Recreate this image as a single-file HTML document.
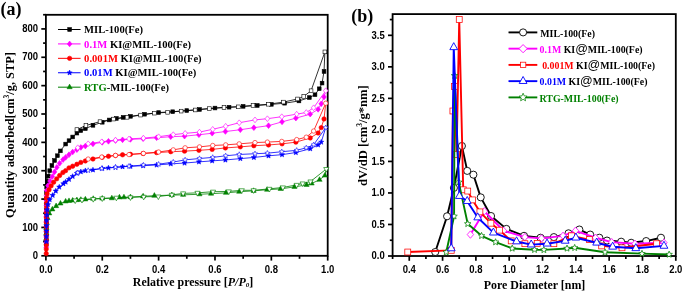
<!DOCTYPE html>
<html><head><meta charset="utf-8"><style>
html,body{margin:0;padding:0;background:#fff;}
svg{display:block;will-change:transform;}
.tk{font-family:"Liberation Sans",sans-serif;font-weight:bold;font-size:10.0px;fill:#000;}
.tt{font-family:"Liberation Serif",serif;font-weight:bold;font-size:11.95px;fill:#000;}
.tt2{font-family:"Liberation Serif",serif;font-weight:bold;font-size:12.6px;fill:#000;}
.tt3{font-family:"Liberation Serif",serif;font-weight:bold;font-size:12.4px;fill:#000;}
.pl{font-family:"Liberation Serif",serif;font-weight:bold;font-size:18px;fill:#000;}
.lga{font-family:"Liberation Serif",serif;font-weight:bold;font-size:10.6px;fill:#000;}
.lgb{font-family:"Liberation Serif",serif;font-weight:bold;font-size:9.85px;fill:#000;}
.at{font-family:"Liberation Sans",sans-serif;font-weight:normal;font-size:12.5px;}
</style></head><body>
<svg width="685" height="292" viewBox="0 0 685 292">
<rect width="685" height="292" fill="#fff"/>
<rect x="45.9" y="14.8" width="281.80" height="241.00" fill="none" stroke="#000" stroke-width="1.8"/>
<line x1="41.30" y1="255.80" x2="45.9" y2="255.80" stroke="#000" stroke-width="1.7"/>
<text transform="translate(38.0,259.00) scale(0.95,1)" text-anchor="end" class="tk">0</text>
<line x1="43.10" y1="241.62" x2="45.9" y2="241.62" stroke="#000" stroke-width="1.7"/>
<line x1="41.30" y1="227.44" x2="45.9" y2="227.44" stroke="#000" stroke-width="1.7"/>
<text transform="translate(38.0,230.64) scale(0.95,1)" text-anchor="end" class="tk">100</text>
<line x1="43.10" y1="213.26" x2="45.9" y2="213.26" stroke="#000" stroke-width="1.7"/>
<line x1="41.30" y1="199.08" x2="45.9" y2="199.08" stroke="#000" stroke-width="1.7"/>
<text transform="translate(38.0,202.28) scale(0.95,1)" text-anchor="end" class="tk">200</text>
<line x1="43.10" y1="184.90" x2="45.9" y2="184.90" stroke="#000" stroke-width="1.7"/>
<line x1="41.30" y1="170.72" x2="45.9" y2="170.72" stroke="#000" stroke-width="1.7"/>
<text transform="translate(38.0,173.92) scale(0.95,1)" text-anchor="end" class="tk">300</text>
<line x1="43.10" y1="156.54" x2="45.9" y2="156.54" stroke="#000" stroke-width="1.7"/>
<line x1="41.30" y1="142.36" x2="45.9" y2="142.36" stroke="#000" stroke-width="1.7"/>
<text transform="translate(38.0,145.56) scale(0.95,1)" text-anchor="end" class="tk">400</text>
<line x1="43.10" y1="128.18" x2="45.9" y2="128.18" stroke="#000" stroke-width="1.7"/>
<line x1="41.30" y1="114.00" x2="45.9" y2="114.00" stroke="#000" stroke-width="1.7"/>
<text transform="translate(38.0,117.20) scale(0.95,1)" text-anchor="end" class="tk">500</text>
<line x1="43.10" y1="99.82" x2="45.9" y2="99.82" stroke="#000" stroke-width="1.7"/>
<line x1="41.30" y1="85.64" x2="45.9" y2="85.64" stroke="#000" stroke-width="1.7"/>
<text transform="translate(38.0,88.84) scale(0.95,1)" text-anchor="end" class="tk">600</text>
<line x1="43.10" y1="71.46" x2="45.9" y2="71.46" stroke="#000" stroke-width="1.7"/>
<line x1="41.30" y1="57.28" x2="45.9" y2="57.28" stroke="#000" stroke-width="1.7"/>
<text transform="translate(38.0,60.48) scale(0.95,1)" text-anchor="end" class="tk">700</text>
<line x1="43.10" y1="43.10" x2="45.9" y2="43.10" stroke="#000" stroke-width="1.7"/>
<line x1="41.30" y1="28.92" x2="45.9" y2="28.92" stroke="#000" stroke-width="1.7"/>
<text transform="translate(38.0,32.12) scale(0.95,1)" text-anchor="end" class="tk">800</text>
<line x1="43.10" y1="14.74" x2="45.9" y2="14.74" stroke="#000" stroke-width="1.7"/>
<line x1="45.90" y1="255.8" x2="45.90" y2="260.60" stroke="#000" stroke-width="1.7"/>
<text transform="translate(45.90,272.5) scale(0.95,1)" text-anchor="middle" class="tk">0.0</text>
<line x1="74.08" y1="255.8" x2="74.08" y2="258.80" stroke="#000" stroke-width="1.7"/>
<line x1="102.26" y1="255.8" x2="102.26" y2="260.60" stroke="#000" stroke-width="1.7"/>
<text transform="translate(102.26,272.5) scale(0.95,1)" text-anchor="middle" class="tk">0.2</text>
<line x1="130.44" y1="255.8" x2="130.44" y2="258.80" stroke="#000" stroke-width="1.7"/>
<line x1="158.62" y1="255.8" x2="158.62" y2="260.60" stroke="#000" stroke-width="1.7"/>
<text transform="translate(158.62,272.5) scale(0.95,1)" text-anchor="middle" class="tk">0.4</text>
<line x1="186.80" y1="255.8" x2="186.80" y2="258.80" stroke="#000" stroke-width="1.7"/>
<line x1="214.98" y1="255.8" x2="214.98" y2="260.60" stroke="#000" stroke-width="1.7"/>
<text transform="translate(214.98,272.5) scale(0.95,1)" text-anchor="middle" class="tk">0.6</text>
<line x1="243.16" y1="255.8" x2="243.16" y2="258.80" stroke="#000" stroke-width="1.7"/>
<line x1="271.34" y1="255.8" x2="271.34" y2="260.60" stroke="#000" stroke-width="1.7"/>
<text transform="translate(271.34,272.5) scale(0.95,1)" text-anchor="middle" class="tk">0.8</text>
<line x1="299.52" y1="255.8" x2="299.52" y2="258.80" stroke="#000" stroke-width="1.7"/>
<line x1="327.70" y1="255.8" x2="327.70" y2="260.60" stroke="#000" stroke-width="1.7"/>
<text transform="translate(327.70,272.5) scale(0.95,1)" text-anchor="middle" class="tk">1.0</text>
<text x="193" y="286.4" text-anchor="middle" class="tt">Relative pressure [<tspan font-style="italic">P/P</tspan><tspan font-size="7px" dy="0.3" font-style="italic">0</tspan><tspan dy="-0.3">]</tspan></text>
<text transform="translate(13.6,135.0) rotate(-90)" text-anchor="middle" class="tt3">Quantity adsorbed[cm<tspan font-size="7.6px" dy="-4.6">3</tspan><tspan dy="4.6">/g, STP]</tspan></text>
<text x="0.6" y="15.3" class="pl">(a)</text>
<polyline points="46.24,244.46 46.25,238.78 46.27,233.11 46.28,227.44 46.29,221.77 46.33,216.10 46.36,210.42 46.41,204.61 46.47,198.65 46.53,192.70 46.63,187.14 47.14,181.58 48.27,176.06 49.71,170.64 51.88,165.49 54.52,160.51 57.40,155.69 60.38,150.88 65.63,144.06 69.01,140.66 72.67,136.97 76.90,133.14 80.84,130.63 85.35,128.63 92.96,125.34 102.26,122.28 109.31,119.96 116.35,118.44 123.11,117.40 130.44,116.35 144.53,114.25 158.62,112.56 172.71,111.71 186.80,110.55 199.48,109.46 214.98,108.04 229.07,107.21 243.16,106.36 257.25,105.47 271.34,104.36 284.58,103.22 298.96,100.95 309.38,97.55 315.02,94.72 319.25,88.76 322.06,83.09 324.04,71.46 324.88,51.89" fill="none" stroke="#000000" stroke-width="0.8" stroke-linejoin="round"/>
<polyline points="324.88,51.89 311.07,90.74 303.75,96.42 297.55,98.97 283.46,102.09 268.52,104.24 253.02,105.43 238.37,106.85 224.00,107.45 209.34,108.61 195.25,109.98 181.16,111.12 167.64,112.30 154.39,113.15 140.58,115.09 127.06,117.31 113.53,119.07 100.01,121.66 85.92,125.47 76.90,129.60" fill="none" stroke="#000000" stroke-width="0.8" stroke-linejoin="round"/>
<rect x="44.39" y="242.61" width="3.70" height="3.70" fill="#000000" stroke="#000000" stroke-width="0.6"/>
<rect x="44.40" y="236.93" width="3.70" height="3.70" fill="#000000" stroke="#000000" stroke-width="0.6"/>
<rect x="44.42" y="231.26" width="3.70" height="3.70" fill="#000000" stroke="#000000" stroke-width="0.6"/>
<rect x="44.43" y="225.59" width="3.70" height="3.70" fill="#000000" stroke="#000000" stroke-width="0.6"/>
<rect x="44.44" y="219.92" width="3.70" height="3.70" fill="#000000" stroke="#000000" stroke-width="0.6"/>
<rect x="44.48" y="214.25" width="3.70" height="3.70" fill="#000000" stroke="#000000" stroke-width="0.6"/>
<rect x="44.51" y="208.57" width="3.70" height="3.70" fill="#000000" stroke="#000000" stroke-width="0.6"/>
<rect x="44.56" y="202.76" width="3.70" height="3.70" fill="#000000" stroke="#000000" stroke-width="0.6"/>
<rect x="44.62" y="196.80" width="3.70" height="3.70" fill="#000000" stroke="#000000" stroke-width="0.6"/>
<rect x="44.68" y="190.85" width="3.70" height="3.70" fill="#000000" stroke="#000000" stroke-width="0.6"/>
<rect x="44.78" y="185.29" width="3.70" height="3.70" fill="#000000" stroke="#000000" stroke-width="0.6"/>
<rect x="45.29" y="179.73" width="3.70" height="3.70" fill="#000000" stroke="#000000" stroke-width="0.6"/>
<rect x="46.42" y="174.21" width="3.70" height="3.70" fill="#000000" stroke="#000000" stroke-width="0.6"/>
<rect x="47.86" y="168.79" width="3.70" height="3.70" fill="#000000" stroke="#000000" stroke-width="0.6"/>
<rect x="50.03" y="163.64" width="3.70" height="3.70" fill="#000000" stroke="#000000" stroke-width="0.6"/>
<rect x="52.67" y="158.66" width="3.70" height="3.70" fill="#000000" stroke="#000000" stroke-width="0.6"/>
<rect x="55.55" y="153.84" width="3.70" height="3.70" fill="#000000" stroke="#000000" stroke-width="0.6"/>
<rect x="58.53" y="149.03" width="3.70" height="3.70" fill="#000000" stroke="#000000" stroke-width="0.6"/>
<rect x="63.78" y="142.21" width="3.70" height="3.70" fill="#000000" stroke="#000000" stroke-width="0.6"/>
<rect x="67.16" y="138.81" width="3.70" height="3.70" fill="#000000" stroke="#000000" stroke-width="0.6"/>
<rect x="70.82" y="135.12" width="3.70" height="3.70" fill="#000000" stroke="#000000" stroke-width="0.6"/>
<rect x="75.05" y="131.29" width="3.70" height="3.70" fill="#000000" stroke="#000000" stroke-width="0.6"/>
<rect x="78.99" y="128.78" width="3.70" height="3.70" fill="#000000" stroke="#000000" stroke-width="0.6"/>
<rect x="83.50" y="126.78" width="3.70" height="3.70" fill="#000000" stroke="#000000" stroke-width="0.6"/>
<rect x="91.11" y="123.49" width="3.70" height="3.70" fill="#000000" stroke="#000000" stroke-width="0.6"/>
<rect x="100.41" y="120.43" width="3.70" height="3.70" fill="#000000" stroke="#000000" stroke-width="0.6"/>
<rect x="107.46" y="118.11" width="3.70" height="3.70" fill="#000000" stroke="#000000" stroke-width="0.6"/>
<rect x="114.50" y="116.59" width="3.70" height="3.70" fill="#000000" stroke="#000000" stroke-width="0.6"/>
<rect x="121.26" y="115.55" width="3.70" height="3.70" fill="#000000" stroke="#000000" stroke-width="0.6"/>
<rect x="128.59" y="114.50" width="3.70" height="3.70" fill="#000000" stroke="#000000" stroke-width="0.6"/>
<rect x="142.68" y="112.40" width="3.70" height="3.70" fill="#000000" stroke="#000000" stroke-width="0.6"/>
<rect x="156.77" y="110.71" width="3.70" height="3.70" fill="#000000" stroke="#000000" stroke-width="0.6"/>
<rect x="170.86" y="109.86" width="3.70" height="3.70" fill="#000000" stroke="#000000" stroke-width="0.6"/>
<rect x="184.95" y="108.70" width="3.70" height="3.70" fill="#000000" stroke="#000000" stroke-width="0.6"/>
<rect x="197.63" y="107.61" width="3.70" height="3.70" fill="#000000" stroke="#000000" stroke-width="0.6"/>
<rect x="213.13" y="106.19" width="3.70" height="3.70" fill="#000000" stroke="#000000" stroke-width="0.6"/>
<rect x="227.22" y="105.36" width="3.70" height="3.70" fill="#000000" stroke="#000000" stroke-width="0.6"/>
<rect x="241.31" y="104.51" width="3.70" height="3.70" fill="#000000" stroke="#000000" stroke-width="0.6"/>
<rect x="255.40" y="103.62" width="3.70" height="3.70" fill="#000000" stroke="#000000" stroke-width="0.6"/>
<rect x="269.49" y="102.51" width="3.70" height="3.70" fill="#000000" stroke="#000000" stroke-width="0.6"/>
<rect x="282.73" y="101.37" width="3.70" height="3.70" fill="#000000" stroke="#000000" stroke-width="0.6"/>
<rect x="297.11" y="99.10" width="3.70" height="3.70" fill="#000000" stroke="#000000" stroke-width="0.6"/>
<rect x="307.53" y="95.70" width="3.70" height="3.70" fill="#000000" stroke="#000000" stroke-width="0.6"/>
<rect x="313.17" y="92.87" width="3.70" height="3.70" fill="#000000" stroke="#000000" stroke-width="0.6"/>
<rect x="317.40" y="86.91" width="3.70" height="3.70" fill="#000000" stroke="#000000" stroke-width="0.6"/>
<rect x="320.21" y="81.24" width="3.70" height="3.70" fill="#000000" stroke="#000000" stroke-width="0.6"/>
<rect x="322.19" y="69.61" width="3.70" height="3.70" fill="#000000" stroke="#000000" stroke-width="0.6"/>
<rect x="323.03" y="50.04" width="3.70" height="3.70" fill="#fff" stroke="#000000" stroke-width="0.6"/>
<rect x="309.22" y="88.89" width="3.70" height="3.70" fill="#fff" stroke="#000000" stroke-width="0.6"/>
<rect x="301.90" y="94.57" width="3.70" height="3.70" fill="#fff" stroke="#000000" stroke-width="0.6"/>
<rect x="295.70" y="97.12" width="3.70" height="3.70" fill="#fff" stroke="#000000" stroke-width="0.6"/>
<rect x="281.61" y="100.24" width="3.70" height="3.70" fill="#fff" stroke="#000000" stroke-width="0.6"/>
<rect x="266.67" y="102.39" width="3.70" height="3.70" fill="#fff" stroke="#000000" stroke-width="0.6"/>
<rect x="251.17" y="103.58" width="3.70" height="3.70" fill="#fff" stroke="#000000" stroke-width="0.6"/>
<rect x="236.52" y="105.00" width="3.70" height="3.70" fill="#fff" stroke="#000000" stroke-width="0.6"/>
<rect x="222.15" y="105.60" width="3.70" height="3.70" fill="#fff" stroke="#000000" stroke-width="0.6"/>
<rect x="207.49" y="106.76" width="3.70" height="3.70" fill="#fff" stroke="#000000" stroke-width="0.6"/>
<rect x="193.40" y="108.13" width="3.70" height="3.70" fill="#fff" stroke="#000000" stroke-width="0.6"/>
<rect x="179.31" y="109.27" width="3.70" height="3.70" fill="#fff" stroke="#000000" stroke-width="0.6"/>
<rect x="165.79" y="110.45" width="3.70" height="3.70" fill="#fff" stroke="#000000" stroke-width="0.6"/>
<rect x="152.54" y="111.30" width="3.70" height="3.70" fill="#fff" stroke="#000000" stroke-width="0.6"/>
<rect x="138.73" y="113.24" width="3.70" height="3.70" fill="#fff" stroke="#000000" stroke-width="0.6"/>
<rect x="125.21" y="115.46" width="3.70" height="3.70" fill="#fff" stroke="#000000" stroke-width="0.6"/>
<rect x="111.68" y="117.22" width="3.70" height="3.70" fill="#fff" stroke="#000000" stroke-width="0.6"/>
<rect x="98.16" y="119.81" width="3.70" height="3.70" fill="#fff" stroke="#000000" stroke-width="0.6"/>
<rect x="84.07" y="123.62" width="3.70" height="3.70" fill="#fff" stroke="#000000" stroke-width="0.6"/>
<rect x="75.05" y="127.75" width="3.70" height="3.70" fill="#fff" stroke="#000000" stroke-width="0.6"/>
<polyline points="46.24,247.29 46.25,242.19 46.26,237.08 46.28,231.98 46.29,226.87 46.31,221.77 46.34,216.45 46.37,211.13 46.44,205.74 46.50,200.68 46.57,195.61 46.70,190.51 47.98,185.64 49.98,180.99 52.33,176.50 54.49,171.93 56.78,167.42 59.61,163.33 63.09,159.59 65.63,157.42 69.01,154.72 72.67,152.00 76.90,149.66 80.84,147.46 85.35,146.07 92.96,143.88 102.26,142.36 108.46,141.32 115.50,140.55 122.55,139.81 130.44,139.40 143.12,138.75 156.65,137.77 170.74,136.71 184.55,136.15 198.92,134.76 212.16,133.23 225.41,131.52 240.34,129.73 253.87,127.70 268.52,125.67 282.05,121.86 295.86,118.14 310.23,114.16 318.12,109.33 321.22,103.82 324.04,96.98 325.73,90.74" fill="none" stroke="#ff00ff" stroke-width="0.8" stroke-linejoin="round"/>
<polyline points="325.73,90.74 313.61,107.77 306.28,112.50 296.70,114.14 281.77,116.69 267.39,118.70 255.00,119.90 239.21,122.73 225.69,126.25 212.73,129.31 199.48,132.07 185.11,133.35 173.27,134.64 158.62,136.71 143.40,138.11 129.03,138.89 115.50,140.07 101.70,141.76 88.17,143.74 77.74,147.70" fill="none" stroke="#ff00ff" stroke-width="0.8" stroke-linejoin="round"/>
<path d="M46.24 244.44L48.59 247.29L46.24 250.14L43.89 247.29Z" fill="#ff00ff" stroke="#ff00ff" stroke-width="0.6"/>
<path d="M46.25 239.34L48.60 242.19L46.25 245.04L43.90 242.19Z" fill="#ff00ff" stroke="#ff00ff" stroke-width="0.6"/>
<path d="M46.26 234.23L48.61 237.08L46.26 239.93L43.91 237.08Z" fill="#ff00ff" stroke="#ff00ff" stroke-width="0.6"/>
<path d="M46.28 229.13L48.63 231.98L46.28 234.83L43.93 231.98Z" fill="#ff00ff" stroke="#ff00ff" stroke-width="0.6"/>
<path d="M46.29 224.02L48.64 226.87L46.29 229.72L43.94 226.87Z" fill="#ff00ff" stroke="#ff00ff" stroke-width="0.6"/>
<path d="M46.31 218.92L48.66 221.77L46.31 224.62L43.96 221.77Z" fill="#ff00ff" stroke="#ff00ff" stroke-width="0.6"/>
<path d="M46.34 213.60L48.69 216.45L46.34 219.30L43.99 216.45Z" fill="#ff00ff" stroke="#ff00ff" stroke-width="0.6"/>
<path d="M46.37 208.28L48.72 211.13L46.37 213.98L44.02 211.13Z" fill="#ff00ff" stroke="#ff00ff" stroke-width="0.6"/>
<path d="M46.44 202.89L48.79 205.74L46.44 208.59L44.09 205.74Z" fill="#ff00ff" stroke="#ff00ff" stroke-width="0.6"/>
<path d="M46.50 197.83L48.85 200.68L46.50 203.53L44.15 200.68Z" fill="#ff00ff" stroke="#ff00ff" stroke-width="0.6"/>
<path d="M46.57 192.76L48.92 195.61L46.57 198.46L44.22 195.61Z" fill="#ff00ff" stroke="#ff00ff" stroke-width="0.6"/>
<path d="M46.70 187.66L49.05 190.51L46.70 193.36L44.35 190.51Z" fill="#ff00ff" stroke="#ff00ff" stroke-width="0.6"/>
<path d="M47.98 182.79L50.33 185.64L47.98 188.49L45.63 185.64Z" fill="#ff00ff" stroke="#ff00ff" stroke-width="0.6"/>
<path d="M49.98 178.14L52.33 180.99L49.98 183.84L47.63 180.99Z" fill="#ff00ff" stroke="#ff00ff" stroke-width="0.6"/>
<path d="M52.33 173.65L54.68 176.50L52.33 179.35L49.98 176.50Z" fill="#ff00ff" stroke="#ff00ff" stroke-width="0.6"/>
<path d="M54.49 169.08L56.84 171.93L54.49 174.78L52.14 171.93Z" fill="#ff00ff" stroke="#ff00ff" stroke-width="0.6"/>
<path d="M56.78 164.57L59.13 167.42L56.78 170.27L54.43 167.42Z" fill="#ff00ff" stroke="#ff00ff" stroke-width="0.6"/>
<path d="M59.61 160.48L61.96 163.33L59.61 166.18L57.26 163.33Z" fill="#ff00ff" stroke="#ff00ff" stroke-width="0.6"/>
<path d="M63.09 156.74L65.44 159.59L63.09 162.44L60.74 159.59Z" fill="#ff00ff" stroke="#ff00ff" stroke-width="0.6"/>
<path d="M65.63 154.57L67.98 157.42L65.63 160.27L63.28 157.42Z" fill="#ff00ff" stroke="#ff00ff" stroke-width="0.6"/>
<path d="M69.01 151.87L71.36 154.72L69.01 157.57L66.66 154.72Z" fill="#ff00ff" stroke="#ff00ff" stroke-width="0.6"/>
<path d="M72.67 149.15L75.02 152.00L72.67 154.85L70.32 152.00Z" fill="#ff00ff" stroke="#ff00ff" stroke-width="0.6"/>
<path d="M76.90 146.81L79.25 149.66L76.90 152.51L74.55 149.66Z" fill="#ff00ff" stroke="#ff00ff" stroke-width="0.6"/>
<path d="M80.84 144.61L83.19 147.46L80.84 150.31L78.49 147.46Z" fill="#ff00ff" stroke="#ff00ff" stroke-width="0.6"/>
<path d="M85.35 143.22L87.70 146.07L85.35 148.92L83.00 146.07Z" fill="#ff00ff" stroke="#ff00ff" stroke-width="0.6"/>
<path d="M92.96 141.03L95.31 143.88L92.96 146.73L90.61 143.88Z" fill="#ff00ff" stroke="#ff00ff" stroke-width="0.6"/>
<path d="M102.26 139.51L104.61 142.36L102.26 145.21L99.91 142.36Z" fill="#ff00ff" stroke="#ff00ff" stroke-width="0.6"/>
<path d="M108.46 138.47L110.81 141.32L108.46 144.17L106.11 141.32Z" fill="#ff00ff" stroke="#ff00ff" stroke-width="0.6"/>
<path d="M115.50 137.70L117.85 140.55L115.50 143.40L113.15 140.55Z" fill="#ff00ff" stroke="#ff00ff" stroke-width="0.6"/>
<path d="M122.55 136.96L124.90 139.81L122.55 142.66L120.20 139.81Z" fill="#ff00ff" stroke="#ff00ff" stroke-width="0.6"/>
<path d="M130.44 136.55L132.79 139.40L130.44 142.25L128.09 139.40Z" fill="#ff00ff" stroke="#ff00ff" stroke-width="0.6"/>
<path d="M143.12 135.90L145.47 138.75L143.12 141.60L140.77 138.75Z" fill="#ff00ff" stroke="#ff00ff" stroke-width="0.6"/>
<path d="M156.65 134.92L159.00 137.77L156.65 140.62L154.30 137.77Z" fill="#ff00ff" stroke="#ff00ff" stroke-width="0.6"/>
<path d="M170.74 133.86L173.09 136.71L170.74 139.56L168.39 136.71Z" fill="#ff00ff" stroke="#ff00ff" stroke-width="0.6"/>
<path d="M184.55 133.30L186.90 136.15L184.55 139.00L182.20 136.15Z" fill="#ff00ff" stroke="#ff00ff" stroke-width="0.6"/>
<path d="M198.92 131.91L201.27 134.76L198.92 137.61L196.57 134.76Z" fill="#ff00ff" stroke="#ff00ff" stroke-width="0.6"/>
<path d="M212.16 130.38L214.51 133.23L212.16 136.08L209.81 133.23Z" fill="#ff00ff" stroke="#ff00ff" stroke-width="0.6"/>
<path d="M225.41 128.67L227.76 131.52L225.41 134.37L223.06 131.52Z" fill="#ff00ff" stroke="#ff00ff" stroke-width="0.6"/>
<path d="M240.34 126.88L242.69 129.73L240.34 132.58L237.99 129.73Z" fill="#ff00ff" stroke="#ff00ff" stroke-width="0.6"/>
<path d="M253.87 124.85L256.22 127.70L253.87 130.55L251.52 127.70Z" fill="#ff00ff" stroke="#ff00ff" stroke-width="0.6"/>
<path d="M268.52 122.82L270.87 125.67L268.52 128.52L266.17 125.67Z" fill="#ff00ff" stroke="#ff00ff" stroke-width="0.6"/>
<path d="M282.05 119.01L284.40 121.86L282.05 124.71L279.70 121.86Z" fill="#ff00ff" stroke="#ff00ff" stroke-width="0.6"/>
<path d="M295.86 115.29L298.21 118.14L295.86 120.99L293.51 118.14Z" fill="#ff00ff" stroke="#ff00ff" stroke-width="0.6"/>
<path d="M310.23 111.31L312.58 114.16L310.23 117.01L307.88 114.16Z" fill="#ff00ff" stroke="#ff00ff" stroke-width="0.6"/>
<path d="M318.12 106.48L320.47 109.33L318.12 112.18L315.77 109.33Z" fill="#ff00ff" stroke="#ff00ff" stroke-width="0.6"/>
<path d="M321.22 100.97L323.57 103.82L321.22 106.67L318.87 103.82Z" fill="#ff00ff" stroke="#ff00ff" stroke-width="0.6"/>
<path d="M324.04 94.13L326.39 96.98L324.04 99.83L321.69 96.98Z" fill="#ff00ff" stroke="#ff00ff" stroke-width="0.6"/>
<path d="M325.73 87.89L328.08 90.74L325.73 93.59L323.38 90.74Z" fill="#fff" stroke="#ff00ff" stroke-width="0.6"/>
<path d="M313.61 104.92L315.96 107.77L313.61 110.62L311.26 107.77Z" fill="#fff" stroke="#ff00ff" stroke-width="0.6"/>
<path d="M306.28 109.65L308.63 112.50L306.28 115.35L303.93 112.50Z" fill="#fff" stroke="#ff00ff" stroke-width="0.6"/>
<path d="M296.70 111.29L299.05 114.14L296.70 116.99L294.35 114.14Z" fill="#fff" stroke="#ff00ff" stroke-width="0.6"/>
<path d="M281.77 113.84L284.12 116.69L281.77 119.54L279.42 116.69Z" fill="#fff" stroke="#ff00ff" stroke-width="0.6"/>
<path d="M267.39 115.85L269.74 118.70L267.39 121.55L265.04 118.70Z" fill="#fff" stroke="#ff00ff" stroke-width="0.6"/>
<path d="M255.00 117.05L257.35 119.90L255.00 122.75L252.65 119.90Z" fill="#fff" stroke="#ff00ff" stroke-width="0.6"/>
<path d="M239.21 119.88L241.56 122.73L239.21 125.58L236.86 122.73Z" fill="#fff" stroke="#ff00ff" stroke-width="0.6"/>
<path d="M225.69 123.40L228.04 126.25L225.69 129.10L223.34 126.25Z" fill="#fff" stroke="#ff00ff" stroke-width="0.6"/>
<path d="M212.73 126.46L215.08 129.31L212.73 132.16L210.38 129.31Z" fill="#fff" stroke="#ff00ff" stroke-width="0.6"/>
<path d="M199.48 129.22L201.83 132.07L199.48 134.92L197.13 132.07Z" fill="#fff" stroke="#ff00ff" stroke-width="0.6"/>
<path d="M185.11 130.50L187.46 133.35L185.11 136.20L182.76 133.35Z" fill="#fff" stroke="#ff00ff" stroke-width="0.6"/>
<path d="M173.27 131.79L175.62 134.64L173.27 137.49L170.92 134.64Z" fill="#fff" stroke="#ff00ff" stroke-width="0.6"/>
<path d="M158.62 133.86L160.97 136.71L158.62 139.56L156.27 136.71Z" fill="#fff" stroke="#ff00ff" stroke-width="0.6"/>
<path d="M143.40 135.26L145.75 138.11L143.40 140.96L141.05 138.11Z" fill="#fff" stroke="#ff00ff" stroke-width="0.6"/>
<path d="M129.03 136.04L131.38 138.89L129.03 141.74L126.68 138.89Z" fill="#fff" stroke="#ff00ff" stroke-width="0.6"/>
<path d="M115.50 137.22L117.85 140.07L115.50 142.92L113.15 140.07Z" fill="#fff" stroke="#ff00ff" stroke-width="0.6"/>
<path d="M101.70 138.91L104.05 141.76L101.70 144.61L99.35 141.76Z" fill="#fff" stroke="#ff00ff" stroke-width="0.6"/>
<path d="M88.17 140.89L90.52 143.74L88.17 146.59L85.82 143.74Z" fill="#fff" stroke="#ff00ff" stroke-width="0.6"/>
<path d="M77.74 144.85L80.09 147.70L77.74 150.55L75.39 147.70Z" fill="#fff" stroke="#ff00ff" stroke-width="0.6"/>
<polyline points="46.24,238.78 46.32,233.47 46.41,228.15 46.72,223.01 47.51,218.05 49.24,213.37 52.33,209.39 56.12,206.10 60.47,203.51 65.63,201.46 69.01,200.97 72.67,200.53 76.90,200.10 80.84,199.75 85.35,199.39 93.24,198.80 102.26,198.52 111.84,198.23 119.45,197.38 123.96,197.26 130.44,197.09 143.12,196.34 154.39,195.68 171.86,195.11 183.14,194.83 199.48,194.29 211.03,193.69 225.97,192.84 239.21,191.71 253.59,190.86 267.11,189.72 280.64,188.87 294.45,186.89 306.56,184.90 311.64,183.48 319.53,179.80 324.88,175.54 326.29,169.02" fill="none" stroke="#008000" stroke-width="0.8" stroke-linejoin="round"/>
<polyline points="326.29,169.02 310.51,181.50 302.62,183.48 296.70,184.90 282.89,187.45 269.37,188.87 253.59,190.29 241.75,190.29 228.79,191.42 213.01,191.71 197.51,192.84 183.14,193.41 171.86,194.83 158.34,196.53 143.68,196.81 130.44,197.38 116.35,197.74 102.26,198.41 93.24,199.08 81.97,199.93 75.21,200.50" fill="none" stroke="#008000" stroke-width="0.8" stroke-linejoin="round"/>
<path d="M46.24 235.72L48.84 240.32L43.64 240.32Z" fill="#008000" stroke="#008000" stroke-width="0.5" stroke-linejoin="miter"/>
<path d="M46.32 230.40L48.92 235.00L43.72 235.00Z" fill="#008000" stroke="#008000" stroke-width="0.5" stroke-linejoin="miter"/>
<path d="M46.41 225.08L49.01 229.68L43.81 229.68Z" fill="#008000" stroke="#008000" stroke-width="0.5" stroke-linejoin="miter"/>
<path d="M46.72 219.94L49.32 224.54L44.12 224.54Z" fill="#008000" stroke="#008000" stroke-width="0.5" stroke-linejoin="miter"/>
<path d="M47.51 214.98L50.11 219.58L44.91 219.58Z" fill="#008000" stroke="#008000" stroke-width="0.5" stroke-linejoin="miter"/>
<path d="M49.24 210.30L51.84 214.90L46.64 214.90Z" fill="#008000" stroke="#008000" stroke-width="0.5" stroke-linejoin="miter"/>
<path d="M52.33 206.32L54.93 210.92L49.73 210.92Z" fill="#008000" stroke="#008000" stroke-width="0.5" stroke-linejoin="miter"/>
<path d="M56.12 203.03L58.72 207.63L53.52 207.63Z" fill="#008000" stroke="#008000" stroke-width="0.5" stroke-linejoin="miter"/>
<path d="M60.47 200.44L63.07 205.04L57.87 205.04Z" fill="#008000" stroke="#008000" stroke-width="0.5" stroke-linejoin="miter"/>
<path d="M65.63 198.39L68.23 202.99L63.03 202.99Z" fill="#008000" stroke="#008000" stroke-width="0.5" stroke-linejoin="miter"/>
<path d="M69.01 197.91L71.61 202.51L66.41 202.51Z" fill="#008000" stroke="#008000" stroke-width="0.5" stroke-linejoin="miter"/>
<path d="M72.67 197.46L75.27 202.06L70.07 202.06Z" fill="#008000" stroke="#008000" stroke-width="0.5" stroke-linejoin="miter"/>
<path d="M76.90 197.04L79.50 201.64L74.30 201.64Z" fill="#008000" stroke="#008000" stroke-width="0.5" stroke-linejoin="miter"/>
<path d="M80.84 196.68L83.44 201.28L78.24 201.28Z" fill="#008000" stroke="#008000" stroke-width="0.5" stroke-linejoin="miter"/>
<path d="M85.35 196.33L87.95 200.93L82.75 200.93Z" fill="#008000" stroke="#008000" stroke-width="0.5" stroke-linejoin="miter"/>
<path d="M93.24 195.73L95.84 200.33L90.64 200.33Z" fill="#008000" stroke="#008000" stroke-width="0.5" stroke-linejoin="miter"/>
<path d="M102.26 195.45L104.86 200.05L99.66 200.05Z" fill="#008000" stroke="#008000" stroke-width="0.5" stroke-linejoin="miter"/>
<path d="M111.84 195.16L114.44 199.76L109.24 199.76Z" fill="#008000" stroke="#008000" stroke-width="0.5" stroke-linejoin="miter"/>
<path d="M119.45 194.31L122.05 198.91L116.85 198.91Z" fill="#008000" stroke="#008000" stroke-width="0.5" stroke-linejoin="miter"/>
<path d="M123.96 194.20L126.56 198.80L121.36 198.80Z" fill="#008000" stroke="#008000" stroke-width="0.5" stroke-linejoin="miter"/>
<path d="M130.44 194.03L133.04 198.63L127.84 198.63Z" fill="#008000" stroke="#008000" stroke-width="0.5" stroke-linejoin="miter"/>
<path d="M143.12 193.28L145.72 197.88L140.52 197.88Z" fill="#008000" stroke="#008000" stroke-width="0.5" stroke-linejoin="miter"/>
<path d="M154.39 192.61L156.99 197.21L151.79 197.21Z" fill="#008000" stroke="#008000" stroke-width="0.5" stroke-linejoin="miter"/>
<path d="M171.86 192.04L174.46 196.64L169.26 196.64Z" fill="#008000" stroke="#008000" stroke-width="0.5" stroke-linejoin="miter"/>
<path d="M183.14 191.76L185.74 196.36L180.54 196.36Z" fill="#008000" stroke="#008000" stroke-width="0.5" stroke-linejoin="miter"/>
<path d="M199.48 191.22L202.08 195.82L196.88 195.82Z" fill="#008000" stroke="#008000" stroke-width="0.5" stroke-linejoin="miter"/>
<path d="M211.03 190.62L213.63 195.22L208.43 195.22Z" fill="#008000" stroke="#008000" stroke-width="0.5" stroke-linejoin="miter"/>
<path d="M225.97 189.77L228.57 194.37L223.37 194.37Z" fill="#008000" stroke="#008000" stroke-width="0.5" stroke-linejoin="miter"/>
<path d="M239.21 188.64L241.81 193.24L236.61 193.24Z" fill="#008000" stroke="#008000" stroke-width="0.5" stroke-linejoin="miter"/>
<path d="M253.59 187.79L256.19 192.39L250.99 192.39Z" fill="#008000" stroke="#008000" stroke-width="0.5" stroke-linejoin="miter"/>
<path d="M267.11 186.65L269.71 191.25L264.51 191.25Z" fill="#008000" stroke="#008000" stroke-width="0.5" stroke-linejoin="miter"/>
<path d="M280.64 185.80L283.24 190.40L278.04 190.40Z" fill="#008000" stroke="#008000" stroke-width="0.5" stroke-linejoin="miter"/>
<path d="M294.45 183.82L297.05 188.42L291.85 188.42Z" fill="#008000" stroke="#008000" stroke-width="0.5" stroke-linejoin="miter"/>
<path d="M306.56 181.83L309.17 186.43L303.96 186.43Z" fill="#008000" stroke="#008000" stroke-width="0.5" stroke-linejoin="miter"/>
<path d="M311.64 180.42L314.24 185.02L309.04 185.02Z" fill="#008000" stroke="#008000" stroke-width="0.5" stroke-linejoin="miter"/>
<path d="M319.53 176.73L322.13 181.33L316.93 181.33Z" fill="#008000" stroke="#008000" stroke-width="0.5" stroke-linejoin="miter"/>
<path d="M324.88 172.47L327.48 177.07L322.28 177.07Z" fill="#008000" stroke="#008000" stroke-width="0.5" stroke-linejoin="miter"/>
<path d="M326.29 172.09L328.89 167.49L323.69 167.49Z" fill="#fff" stroke="#008000" stroke-width="0.65" stroke-linejoin="miter"/>
<path d="M310.51 184.56L313.11 179.96L307.91 179.96Z" fill="#fff" stroke="#008000" stroke-width="0.65" stroke-linejoin="miter"/>
<path d="M302.62 186.55L305.22 181.95L300.02 181.95Z" fill="#fff" stroke="#008000" stroke-width="0.65" stroke-linejoin="miter"/>
<path d="M296.70 187.97L299.30 183.37L294.10 183.37Z" fill="#fff" stroke="#008000" stroke-width="0.65" stroke-linejoin="miter"/>
<path d="M282.89 190.52L285.49 185.92L280.29 185.92Z" fill="#fff" stroke="#008000" stroke-width="0.65" stroke-linejoin="miter"/>
<path d="M269.37 191.94L271.97 187.34L266.77 187.34Z" fill="#fff" stroke="#008000" stroke-width="0.65" stroke-linejoin="miter"/>
<path d="M253.59 193.36L256.19 188.76L250.99 188.76Z" fill="#fff" stroke="#008000" stroke-width="0.65" stroke-linejoin="miter"/>
<path d="M241.75 193.36L244.35 188.76L239.15 188.76Z" fill="#fff" stroke="#008000" stroke-width="0.65" stroke-linejoin="miter"/>
<path d="M228.79 194.49L231.39 189.89L226.19 189.89Z" fill="#fff" stroke="#008000" stroke-width="0.65" stroke-linejoin="miter"/>
<path d="M213.01 194.77L215.61 190.17L210.41 190.17Z" fill="#fff" stroke="#008000" stroke-width="0.65" stroke-linejoin="miter"/>
<path d="M197.51 195.91L200.11 191.31L194.91 191.31Z" fill="#fff" stroke="#008000" stroke-width="0.65" stroke-linejoin="miter"/>
<path d="M183.14 196.47L185.74 191.87L180.54 191.87Z" fill="#fff" stroke="#008000" stroke-width="0.65" stroke-linejoin="miter"/>
<path d="M171.86 197.89L174.46 193.29L169.26 193.29Z" fill="#fff" stroke="#008000" stroke-width="0.65" stroke-linejoin="miter"/>
<path d="M158.34 199.59L160.94 194.99L155.74 194.99Z" fill="#fff" stroke="#008000" stroke-width="0.65" stroke-linejoin="miter"/>
<path d="M143.68 199.88L146.28 195.28L141.08 195.28Z" fill="#fff" stroke="#008000" stroke-width="0.65" stroke-linejoin="miter"/>
<path d="M130.44 200.45L133.04 195.85L127.84 195.85Z" fill="#fff" stroke="#008000" stroke-width="0.65" stroke-linejoin="miter"/>
<path d="M116.35 200.81L118.95 196.21L113.75 196.21Z" fill="#fff" stroke="#008000" stroke-width="0.65" stroke-linejoin="miter"/>
<path d="M102.26 201.47L104.86 196.87L99.66 196.87Z" fill="#fff" stroke="#008000" stroke-width="0.65" stroke-linejoin="miter"/>
<path d="M93.24 202.15L95.84 197.55L90.64 197.55Z" fill="#fff" stroke="#008000" stroke-width="0.65" stroke-linejoin="miter"/>
<path d="M81.97 203.00L84.57 198.40L79.37 198.40Z" fill="#fff" stroke="#008000" stroke-width="0.65" stroke-linejoin="miter"/>
<path d="M75.21 203.56L77.81 198.96L72.61 198.96Z" fill="#fff" stroke="#008000" stroke-width="0.65" stroke-linejoin="miter"/>
<polyline points="46.24,253.53 46.26,249.11 46.27,244.68 46.29,240.26 46.31,235.81 46.33,231.34 46.35,226.87 46.36,222.41 46.39,217.84 46.42,212.93 46.45,208.01 46.48,203.10 46.51,198.19 47.13,193.80 49.06,189.76 51.15,185.86 53.65,182.18 56.69,178.86 59.64,175.49 62.89,172.51 65.63,170.64 69.01,167.83 72.67,166.18 76.90,164.24 80.84,162.42 85.35,160.94 92.96,159.02 102.26,157.25 108.46,156.26 115.50,155.53 122.55,154.82 130.44,154.32 143.12,153.51 156.65,152.63 170.74,151.72 184.55,151.14 198.92,150.33 212.16,149.39 225.41,147.93 240.34,146.87 253.87,145.72 268.52,144.96 282.05,143.86 295.86,142.17 310.23,137.97 318.12,133.00 321.22,127.61 324.04,118.95 325.73,103.22" fill="none" stroke="#ff0000" stroke-width="0.8" stroke-linejoin="round"/>
<polyline points="325.73,103.22 313.61,131.05 306.28,137.18 296.70,139.59 281.77,141.40 267.39,142.08 255.00,142.57 239.21,143.87 225.69,144.87 212.73,145.48 199.48,146.90 185.11,147.80 173.27,149.86 158.62,152.00 143.40,153.37 129.03,154.60 115.50,155.39 101.70,157.07 88.17,159.05" fill="none" stroke="#ff0000" stroke-width="0.8" stroke-linejoin="round"/>
<circle cx="46.24" cy="253.53" r="2.20" fill="#ff0000" stroke="#ff0000" stroke-width="0.6"/>
<circle cx="46.26" cy="249.11" r="2.20" fill="#ff0000" stroke="#ff0000" stroke-width="0.6"/>
<circle cx="46.27" cy="244.68" r="2.20" fill="#ff0000" stroke="#ff0000" stroke-width="0.6"/>
<circle cx="46.29" cy="240.26" r="2.20" fill="#ff0000" stroke="#ff0000" stroke-width="0.6"/>
<circle cx="46.31" cy="235.81" r="2.20" fill="#ff0000" stroke="#ff0000" stroke-width="0.6"/>
<circle cx="46.33" cy="231.34" r="2.20" fill="#ff0000" stroke="#ff0000" stroke-width="0.6"/>
<circle cx="46.35" cy="226.87" r="2.20" fill="#ff0000" stroke="#ff0000" stroke-width="0.6"/>
<circle cx="46.36" cy="222.41" r="2.20" fill="#ff0000" stroke="#ff0000" stroke-width="0.6"/>
<circle cx="46.39" cy="217.84" r="2.20" fill="#ff0000" stroke="#ff0000" stroke-width="0.6"/>
<circle cx="46.42" cy="212.93" r="2.20" fill="#ff0000" stroke="#ff0000" stroke-width="0.6"/>
<circle cx="46.45" cy="208.01" r="2.20" fill="#ff0000" stroke="#ff0000" stroke-width="0.6"/>
<circle cx="46.48" cy="203.10" r="2.20" fill="#ff0000" stroke="#ff0000" stroke-width="0.6"/>
<circle cx="46.51" cy="198.19" r="2.20" fill="#ff0000" stroke="#ff0000" stroke-width="0.6"/>
<circle cx="47.13" cy="193.80" r="2.20" fill="#ff0000" stroke="#ff0000" stroke-width="0.6"/>
<circle cx="49.06" cy="189.76" r="2.20" fill="#ff0000" stroke="#ff0000" stroke-width="0.6"/>
<circle cx="51.15" cy="185.86" r="2.20" fill="#ff0000" stroke="#ff0000" stroke-width="0.6"/>
<circle cx="53.65" cy="182.18" r="2.20" fill="#ff0000" stroke="#ff0000" stroke-width="0.6"/>
<circle cx="56.69" cy="178.86" r="2.20" fill="#ff0000" stroke="#ff0000" stroke-width="0.6"/>
<circle cx="59.64" cy="175.49" r="2.20" fill="#ff0000" stroke="#ff0000" stroke-width="0.6"/>
<circle cx="62.89" cy="172.51" r="2.20" fill="#ff0000" stroke="#ff0000" stroke-width="0.6"/>
<circle cx="65.63" cy="170.64" r="2.20" fill="#ff0000" stroke="#ff0000" stroke-width="0.6"/>
<circle cx="69.01" cy="167.83" r="2.20" fill="#ff0000" stroke="#ff0000" stroke-width="0.6"/>
<circle cx="72.67" cy="166.18" r="2.20" fill="#ff0000" stroke="#ff0000" stroke-width="0.6"/>
<circle cx="76.90" cy="164.24" r="2.20" fill="#ff0000" stroke="#ff0000" stroke-width="0.6"/>
<circle cx="80.84" cy="162.42" r="2.20" fill="#ff0000" stroke="#ff0000" stroke-width="0.6"/>
<circle cx="85.35" cy="160.94" r="2.20" fill="#ff0000" stroke="#ff0000" stroke-width="0.6"/>
<circle cx="92.96" cy="159.02" r="2.20" fill="#ff0000" stroke="#ff0000" stroke-width="0.6"/>
<circle cx="102.26" cy="157.25" r="2.20" fill="#ff0000" stroke="#ff0000" stroke-width="0.6"/>
<circle cx="108.46" cy="156.26" r="2.20" fill="#ff0000" stroke="#ff0000" stroke-width="0.6"/>
<circle cx="115.50" cy="155.53" r="2.20" fill="#ff0000" stroke="#ff0000" stroke-width="0.6"/>
<circle cx="122.55" cy="154.82" r="2.20" fill="#ff0000" stroke="#ff0000" stroke-width="0.6"/>
<circle cx="130.44" cy="154.32" r="2.20" fill="#ff0000" stroke="#ff0000" stroke-width="0.6"/>
<circle cx="143.12" cy="153.51" r="2.20" fill="#ff0000" stroke="#ff0000" stroke-width="0.6"/>
<circle cx="156.65" cy="152.63" r="2.20" fill="#ff0000" stroke="#ff0000" stroke-width="0.6"/>
<circle cx="170.74" cy="151.72" r="2.20" fill="#ff0000" stroke="#ff0000" stroke-width="0.6"/>
<circle cx="184.55" cy="151.14" r="2.20" fill="#ff0000" stroke="#ff0000" stroke-width="0.6"/>
<circle cx="198.92" cy="150.33" r="2.20" fill="#ff0000" stroke="#ff0000" stroke-width="0.6"/>
<circle cx="212.16" cy="149.39" r="2.20" fill="#ff0000" stroke="#ff0000" stroke-width="0.6"/>
<circle cx="225.41" cy="147.93" r="2.20" fill="#ff0000" stroke="#ff0000" stroke-width="0.6"/>
<circle cx="240.34" cy="146.87" r="2.20" fill="#ff0000" stroke="#ff0000" stroke-width="0.6"/>
<circle cx="253.87" cy="145.72" r="2.20" fill="#ff0000" stroke="#ff0000" stroke-width="0.6"/>
<circle cx="268.52" cy="144.96" r="2.20" fill="#ff0000" stroke="#ff0000" stroke-width="0.6"/>
<circle cx="282.05" cy="143.86" r="2.20" fill="#ff0000" stroke="#ff0000" stroke-width="0.6"/>
<circle cx="295.86" cy="142.17" r="2.20" fill="#ff0000" stroke="#ff0000" stroke-width="0.6"/>
<circle cx="310.23" cy="137.97" r="2.20" fill="#ff0000" stroke="#ff0000" stroke-width="0.6"/>
<circle cx="318.12" cy="133.00" r="2.20" fill="#ff0000" stroke="#ff0000" stroke-width="0.6"/>
<circle cx="321.22" cy="127.61" r="2.20" fill="#ff0000" stroke="#ff0000" stroke-width="0.6"/>
<circle cx="324.04" cy="118.95" r="2.20" fill="#ff0000" stroke="#ff0000" stroke-width="0.6"/>
<circle cx="325.73" cy="103.22" r="2.20" fill="#fff" stroke="#ff0000" stroke-width="0.6"/>
<circle cx="313.61" cy="131.05" r="2.20" fill="#fff" stroke="#ff0000" stroke-width="0.6"/>
<circle cx="306.28" cy="137.18" r="2.20" fill="#fff" stroke="#ff0000" stroke-width="0.6"/>
<circle cx="296.70" cy="139.59" r="2.20" fill="#fff" stroke="#ff0000" stroke-width="0.6"/>
<circle cx="281.77" cy="141.40" r="2.20" fill="#fff" stroke="#ff0000" stroke-width="0.6"/>
<circle cx="267.39" cy="142.08" r="2.20" fill="#fff" stroke="#ff0000" stroke-width="0.6"/>
<circle cx="255.00" cy="142.57" r="2.20" fill="#fff" stroke="#ff0000" stroke-width="0.6"/>
<circle cx="239.21" cy="143.87" r="2.20" fill="#fff" stroke="#ff0000" stroke-width="0.6"/>
<circle cx="225.69" cy="144.87" r="2.20" fill="#fff" stroke="#ff0000" stroke-width="0.6"/>
<circle cx="212.73" cy="145.48" r="2.20" fill="#fff" stroke="#ff0000" stroke-width="0.6"/>
<circle cx="199.48" cy="146.90" r="2.20" fill="#fff" stroke="#ff0000" stroke-width="0.6"/>
<circle cx="185.11" cy="147.80" r="2.20" fill="#fff" stroke="#ff0000" stroke-width="0.6"/>
<circle cx="173.27" cy="149.86" r="2.20" fill="#fff" stroke="#ff0000" stroke-width="0.6"/>
<circle cx="158.62" cy="152.00" r="2.20" fill="#fff" stroke="#ff0000" stroke-width="0.6"/>
<circle cx="143.40" cy="153.37" r="2.20" fill="#fff" stroke="#ff0000" stroke-width="0.6"/>
<circle cx="129.03" cy="154.60" r="2.20" fill="#fff" stroke="#ff0000" stroke-width="0.6"/>
<circle cx="115.50" cy="155.39" r="2.20" fill="#fff" stroke="#ff0000" stroke-width="0.6"/>
<circle cx="101.70" cy="157.07" r="2.20" fill="#fff" stroke="#ff0000" stroke-width="0.6"/>
<circle cx="88.17" cy="159.05" r="2.20" fill="#fff" stroke="#ff0000" stroke-width="0.6"/>
<polyline points="46.32,241.62 46.37,236.37 46.43,230.99 46.48,225.67 46.58,220.35 46.82,214.96 47.14,209.72 47.96,204.57 49.68,199.60 52.66,195.32 55.79,191.00 59.26,187.06 63.37,183.69 65.63,181.99 69.01,179.31 72.67,176.39 76.90,173.32 80.84,171.80 85.35,170.65 92.96,169.92 102.26,168.40 108.46,167.90 115.50,167.32 122.55,166.75 130.44,166.35 143.12,165.70 156.65,164.98 170.74,163.88 184.55,163.04 198.92,161.88 212.16,160.87 225.41,159.96 240.34,158.61 253.87,157.44 268.52,155.83 282.05,154.65 295.86,152.53 310.23,148.75 318.12,144.89 321.22,142.13 325.73,127.70" fill="none" stroke="#0000ff" stroke-width="0.8" stroke-linejoin="round"/>
<polyline points="325.73,127.70 313.61,144.80 306.28,147.84 296.70,150.30 281.77,151.72 267.39,153.16 255.00,153.73 239.21,154.48 225.69,155.80 212.73,157.40 199.48,158.53 185.11,159.86 173.27,162.05 158.62,164.20 143.40,165.05 129.03,166.16 115.50,167.32 101.70,168.45 88.17,170.44 77.74,172.71" fill="none" stroke="#0000ff" stroke-width="0.8" stroke-linejoin="round"/>
<path d="M46.32 238.92L47.04 240.64L48.89 240.79L47.48 242.00L47.91 243.80L46.32 242.84L44.74 243.80L45.17 242.00L43.75 240.79L45.61 240.64Z" fill="#0000ff" stroke="#0000ff" stroke-width="0.55" stroke-linejoin="miter"/>
<path d="M46.37 233.67L47.09 235.39L48.94 235.54L47.53 236.75L47.96 238.56L46.37 237.59L44.79 238.56L45.22 236.75L43.81 235.54L45.66 235.39Z" fill="#0000ff" stroke="#0000ff" stroke-width="0.55" stroke-linejoin="miter"/>
<path d="M46.43 228.29L47.14 230.00L49.00 230.15L47.58 231.36L48.02 233.17L46.43 232.20L44.84 233.17L45.27 231.36L43.86 230.15L45.71 230.00Z" fill="#0000ff" stroke="#0000ff" stroke-width="0.55" stroke-linejoin="miter"/>
<path d="M46.48 222.97L47.20 224.68L49.05 224.83L47.64 226.04L48.07 227.85L46.48 226.88L44.89 227.85L45.33 226.04L43.91 224.83L45.77 224.68Z" fill="#0000ff" stroke="#0000ff" stroke-width="0.55" stroke-linejoin="miter"/>
<path d="M46.58 217.65L47.30 219.37L49.15 219.52L47.74 220.73L48.17 222.53L46.58 221.57L45.00 222.53L45.43 220.73L44.02 219.52L45.87 219.37Z" fill="#0000ff" stroke="#0000ff" stroke-width="0.55" stroke-linejoin="miter"/>
<path d="M46.82 212.26L47.54 213.98L49.39 214.13L47.98 215.34L48.41 217.15L46.82 216.18L45.24 217.15L45.67 215.34L44.26 214.13L46.11 213.98Z" fill="#0000ff" stroke="#0000ff" stroke-width="0.55" stroke-linejoin="miter"/>
<path d="M47.14 207.02L47.85 208.73L49.71 208.88L48.30 210.09L48.73 211.90L47.14 210.93L45.55 211.90L45.98 210.09L44.57 208.88L46.43 208.73Z" fill="#0000ff" stroke="#0000ff" stroke-width="0.55" stroke-linejoin="miter"/>
<path d="M47.96 201.87L48.67 203.59L50.52 203.74L49.11 204.95L49.54 206.76L47.96 205.79L46.37 206.76L46.80 204.95L45.39 203.74L47.24 203.59Z" fill="#0000ff" stroke="#0000ff" stroke-width="0.55" stroke-linejoin="miter"/>
<path d="M49.68 196.90L50.40 198.61L52.25 198.76L50.84 199.97L51.27 201.78L49.68 200.81L48.10 201.78L48.53 199.97L47.12 198.76L48.97 198.61Z" fill="#0000ff" stroke="#0000ff" stroke-width="0.55" stroke-linejoin="miter"/>
<path d="M52.66 192.62L53.38 194.34L55.23 194.49L53.82 195.70L54.25 197.51L52.66 196.54L51.08 197.51L51.51 195.70L50.10 194.49L51.95 194.34Z" fill="#0000ff" stroke="#0000ff" stroke-width="0.55" stroke-linejoin="miter"/>
<path d="M55.79 188.30L56.51 190.02L58.36 190.17L56.95 191.38L57.38 193.19L55.79 192.22L54.20 193.19L54.64 191.38L53.22 190.17L55.08 190.02Z" fill="#0000ff" stroke="#0000ff" stroke-width="0.55" stroke-linejoin="miter"/>
<path d="M59.26 184.36L59.97 186.07L61.83 186.22L60.41 187.43L60.84 189.24L59.26 188.27L57.67 189.24L58.10 187.43L56.69 186.22L58.54 186.07Z" fill="#0000ff" stroke="#0000ff" stroke-width="0.55" stroke-linejoin="miter"/>
<path d="M63.37 180.99L64.09 182.71L65.94 182.86L64.53 184.07L64.96 185.88L63.37 184.91L61.78 185.88L62.22 184.07L60.80 182.86L62.66 182.71Z" fill="#0000ff" stroke="#0000ff" stroke-width="0.55" stroke-linejoin="miter"/>
<path d="M65.63 179.29L66.34 181.01L68.19 181.16L66.78 182.37L67.21 184.18L65.63 183.21L64.04 184.18L64.47 182.37L63.06 181.16L64.91 181.01Z" fill="#0000ff" stroke="#0000ff" stroke-width="0.55" stroke-linejoin="miter"/>
<path d="M69.01 176.61L69.72 178.33L71.58 178.48L70.16 179.69L70.59 181.50L69.01 180.53L67.42 181.50L67.85 179.69L66.44 178.48L68.29 178.33Z" fill="#0000ff" stroke="#0000ff" stroke-width="0.55" stroke-linejoin="miter"/>
<path d="M72.67 173.69L73.39 175.41L75.24 175.56L73.83 176.77L74.26 178.58L72.67 177.61L71.08 178.58L71.52 176.77L70.10 175.56L71.96 175.41Z" fill="#0000ff" stroke="#0000ff" stroke-width="0.55" stroke-linejoin="miter"/>
<path d="M76.90 170.62L77.61 172.34L79.47 172.49L78.05 173.70L78.49 175.50L76.90 174.53L75.31 175.50L75.74 173.70L74.33 172.49L76.18 172.34Z" fill="#0000ff" stroke="#0000ff" stroke-width="0.55" stroke-linejoin="miter"/>
<path d="M80.84 169.10L81.56 170.81L83.41 170.96L82.00 172.17L82.43 173.98L80.84 173.01L79.26 173.98L79.69 172.17L78.28 170.96L80.13 170.81Z" fill="#0000ff" stroke="#0000ff" stroke-width="0.55" stroke-linejoin="miter"/>
<path d="M85.35 167.95L86.07 169.67L87.92 169.82L86.51 171.03L86.94 172.84L85.35 171.87L83.76 172.84L84.20 171.03L82.78 169.82L84.64 169.67Z" fill="#0000ff" stroke="#0000ff" stroke-width="0.55" stroke-linejoin="miter"/>
<path d="M92.96 167.22L93.67 168.93L95.53 169.08L94.12 170.29L94.55 172.10L92.96 171.13L91.37 172.10L91.81 170.29L90.39 169.08L92.25 168.93Z" fill="#0000ff" stroke="#0000ff" stroke-width="0.55" stroke-linejoin="miter"/>
<path d="M102.26 165.70L102.97 167.42L104.83 167.57L103.42 168.78L103.85 170.59L102.26 169.62L100.67 170.59L101.10 168.78L99.69 167.57L101.55 167.42Z" fill="#0000ff" stroke="#0000ff" stroke-width="0.55" stroke-linejoin="miter"/>
<path d="M108.46 165.20L109.17 166.91L111.03 167.06L109.62 168.27L110.05 170.08L108.46 169.11L106.87 170.08L107.30 168.27L105.89 167.06L107.75 166.91Z" fill="#0000ff" stroke="#0000ff" stroke-width="0.55" stroke-linejoin="miter"/>
<path d="M115.50 164.62L116.22 166.33L118.07 166.48L116.66 167.69L117.09 169.50L115.50 168.53L113.92 169.50L114.35 167.69L112.94 166.48L114.79 166.33Z" fill="#0000ff" stroke="#0000ff" stroke-width="0.55" stroke-linejoin="miter"/>
<path d="M122.55 164.05L123.26 165.77L125.12 165.92L123.71 167.13L124.14 168.93L122.55 167.96L120.96 168.93L121.39 167.13L119.98 165.92L121.84 165.77Z" fill="#0000ff" stroke="#0000ff" stroke-width="0.55" stroke-linejoin="miter"/>
<path d="M130.44 163.65L131.15 165.36L133.01 165.51L131.60 166.72L132.03 168.53L130.44 167.56L128.85 168.53L129.28 166.72L127.87 165.51L129.73 165.36Z" fill="#0000ff" stroke="#0000ff" stroke-width="0.55" stroke-linejoin="miter"/>
<path d="M143.12 163.00L143.84 164.71L145.69 164.86L144.28 166.07L144.71 167.88L143.12 166.91L141.53 167.88L141.97 166.07L140.55 164.86L142.41 164.71Z" fill="#0000ff" stroke="#0000ff" stroke-width="0.55" stroke-linejoin="miter"/>
<path d="M156.65 162.28L157.36 164.00L159.22 164.15L157.80 165.36L158.23 167.17L156.65 166.20L155.06 167.17L155.49 165.36L154.08 164.15L155.93 164.00Z" fill="#0000ff" stroke="#0000ff" stroke-width="0.55" stroke-linejoin="miter"/>
<path d="M170.74 161.18L171.45 162.90L173.31 163.05L171.89 164.26L172.32 166.06L170.74 165.09L169.15 166.06L169.58 164.26L168.17 163.05L170.02 162.90Z" fill="#0000ff" stroke="#0000ff" stroke-width="0.55" stroke-linejoin="miter"/>
<path d="M184.55 160.34L185.26 162.06L187.11 162.21L185.70 163.42L186.13 165.22L184.55 164.26L182.96 165.22L183.39 163.42L181.98 162.21L183.83 162.06Z" fill="#0000ff" stroke="#0000ff" stroke-width="0.55" stroke-linejoin="miter"/>
<path d="M198.92 159.18L199.63 160.90L201.49 161.05L200.07 162.26L200.50 164.07L198.92 163.10L197.33 164.07L197.76 162.26L196.35 161.05L198.20 160.90Z" fill="#0000ff" stroke="#0000ff" stroke-width="0.55" stroke-linejoin="miter"/>
<path d="M212.16 158.17L212.88 159.89L214.73 160.03L213.32 161.24L213.75 163.05L212.16 162.08L210.57 163.05L211.01 161.24L209.59 160.03L211.45 159.89Z" fill="#0000ff" stroke="#0000ff" stroke-width="0.55" stroke-linejoin="miter"/>
<path d="M225.41 157.26L226.12 158.98L227.97 159.13L226.56 160.34L226.99 162.15L225.41 161.18L223.82 162.15L224.25 160.34L222.84 159.13L224.69 158.98Z" fill="#0000ff" stroke="#0000ff" stroke-width="0.55" stroke-linejoin="miter"/>
<path d="M240.34 155.91L241.06 157.63L242.91 157.78L241.50 158.99L241.93 160.79L240.34 159.83L238.75 160.79L239.19 158.99L237.77 157.78L239.63 157.63Z" fill="#0000ff" stroke="#0000ff" stroke-width="0.55" stroke-linejoin="miter"/>
<path d="M253.87 154.74L254.58 156.46L256.44 156.61L255.02 157.82L255.46 159.62L253.87 158.65L252.28 159.62L252.71 157.82L251.30 156.61L253.15 156.46Z" fill="#0000ff" stroke="#0000ff" stroke-width="0.55" stroke-linejoin="miter"/>
<path d="M268.52 153.13L269.24 154.85L271.09 155.00L269.68 156.21L270.11 158.02L268.52 157.05L266.93 158.02L267.37 156.21L265.95 155.00L267.81 154.85Z" fill="#0000ff" stroke="#0000ff" stroke-width="0.55" stroke-linejoin="miter"/>
<path d="M282.05 151.95L282.76 153.67L284.62 153.82L283.20 155.03L283.64 156.84L282.05 155.87L280.46 156.84L280.89 155.03L279.48 153.82L281.33 153.67Z" fill="#0000ff" stroke="#0000ff" stroke-width="0.55" stroke-linejoin="miter"/>
<path d="M295.86 149.83L296.57 151.55L298.42 151.70L297.01 152.91L297.44 154.72L295.86 153.75L294.27 154.72L294.70 152.91L293.29 151.70L295.14 151.55Z" fill="#0000ff" stroke="#0000ff" stroke-width="0.55" stroke-linejoin="miter"/>
<path d="M310.23 146.05L310.94 147.76L312.80 147.91L311.38 149.12L311.82 150.93L310.23 149.96L308.64 150.93L309.07 149.12L307.66 147.91L309.51 147.76Z" fill="#0000ff" stroke="#0000ff" stroke-width="0.55" stroke-linejoin="miter"/>
<path d="M318.12 142.19L318.83 143.91L320.69 144.06L319.27 145.27L319.71 147.08L318.12 146.11L316.53 147.08L316.96 145.27L315.55 144.06L317.40 143.91Z" fill="#0000ff" stroke="#0000ff" stroke-width="0.55" stroke-linejoin="miter"/>
<path d="M321.22 139.43L321.93 141.14L323.79 141.29L322.37 142.50L322.81 144.31L321.22 143.34L319.63 144.31L320.06 142.50L318.65 141.29L320.50 141.14Z" fill="#0000ff" stroke="#0000ff" stroke-width="0.55" stroke-linejoin="miter"/>
<path d="M325.73 125.00L326.44 126.71L328.30 126.86L326.88 128.07L327.31 129.88L325.73 128.91L324.14 129.88L324.57 128.07L323.16 126.86L325.01 126.71Z" fill="#fff" stroke="#0000ff" stroke-width="0.55" stroke-linejoin="miter"/>
<path d="M313.61 142.10L314.32 143.81L316.18 143.96L314.77 145.17L315.20 146.98L313.61 146.01L312.02 146.98L312.45 145.17L311.04 143.96L312.90 143.81Z" fill="#fff" stroke="#0000ff" stroke-width="0.55" stroke-linejoin="miter"/>
<path d="M306.28 145.14L307.00 146.86L308.85 147.01L307.44 148.22L307.87 150.03L306.28 149.06L304.70 150.03L305.13 148.22L303.72 147.01L305.57 146.86Z" fill="#fff" stroke="#0000ff" stroke-width="0.55" stroke-linejoin="miter"/>
<path d="M296.70 147.60L297.42 149.32L299.27 149.47L297.86 150.68L298.29 152.49L296.70 151.52L295.11 152.49L295.55 150.68L294.13 149.47L295.99 149.32Z" fill="#fff" stroke="#0000ff" stroke-width="0.55" stroke-linejoin="miter"/>
<path d="M281.77 149.02L282.48 150.74L284.33 150.88L282.92 152.09L283.35 153.90L281.77 152.93L280.18 153.90L280.61 152.09L279.20 150.88L281.05 150.74Z" fill="#fff" stroke="#0000ff" stroke-width="0.55" stroke-linejoin="miter"/>
<path d="M267.39 150.46L268.11 152.18L269.96 152.33L268.55 153.54L268.98 155.35L267.39 154.38L265.81 155.35L266.24 153.54L264.83 152.33L266.68 152.18Z" fill="#fff" stroke="#0000ff" stroke-width="0.55" stroke-linejoin="miter"/>
<path d="M255.00 151.03L255.71 152.74L257.56 152.89L256.15 154.10L256.58 155.91L255.00 154.94L253.41 155.91L253.84 154.10L252.43 152.89L254.28 152.74Z" fill="#fff" stroke="#0000ff" stroke-width="0.55" stroke-linejoin="miter"/>
<path d="M239.21 151.78L239.93 153.50L241.78 153.65L240.37 154.86L240.80 156.67L239.21 155.70L237.63 156.67L238.06 154.86L236.65 153.65L238.50 153.50Z" fill="#fff" stroke="#0000ff" stroke-width="0.55" stroke-linejoin="miter"/>
<path d="M225.69 153.10L226.40 154.82L228.26 154.97L226.84 156.18L227.28 157.99L225.69 157.02L224.10 157.99L224.53 156.18L223.12 154.97L224.97 154.82Z" fill="#fff" stroke="#0000ff" stroke-width="0.55" stroke-linejoin="miter"/>
<path d="M212.73 154.70L213.44 156.42L215.29 156.57L213.88 157.78L214.31 159.58L212.73 158.62L211.14 159.58L211.57 157.78L210.16 156.57L212.01 156.42Z" fill="#fff" stroke="#0000ff" stroke-width="0.55" stroke-linejoin="miter"/>
<path d="M199.48 155.83L200.20 157.54L202.05 157.69L200.64 158.90L201.07 160.71L199.48 159.74L197.89 160.71L198.33 158.90L196.91 157.69L198.77 157.54Z" fill="#fff" stroke="#0000ff" stroke-width="0.55" stroke-linejoin="miter"/>
<path d="M185.11 157.16L185.82 158.88L187.68 159.03L186.26 160.24L186.70 162.05L185.11 161.08L183.52 162.05L183.95 160.24L182.54 159.03L184.40 158.88Z" fill="#fff" stroke="#0000ff" stroke-width="0.55" stroke-linejoin="miter"/>
<path d="M173.27 159.35L173.99 161.07L175.84 161.22L174.43 162.43L174.86 164.24L173.27 163.27L171.69 164.24L172.12 162.43L170.71 161.22L172.56 161.07Z" fill="#fff" stroke="#0000ff" stroke-width="0.55" stroke-linejoin="miter"/>
<path d="M158.62 161.50L159.33 163.21L161.19 163.36L159.78 164.57L160.21 166.38L158.62 165.41L157.03 166.38L157.46 164.57L156.05 163.36L157.91 163.21Z" fill="#fff" stroke="#0000ff" stroke-width="0.55" stroke-linejoin="miter"/>
<path d="M143.40 162.35L144.12 164.07L145.97 164.21L144.56 165.42L144.99 167.23L143.40 166.26L141.82 167.23L142.25 165.42L140.83 164.21L142.69 164.07Z" fill="#fff" stroke="#0000ff" stroke-width="0.55" stroke-linejoin="miter"/>
<path d="M129.03 163.46L129.75 165.18L131.60 165.33L130.19 166.54L130.62 168.34L129.03 167.38L127.44 168.34L127.88 166.54L126.46 165.33L128.32 165.18Z" fill="#fff" stroke="#0000ff" stroke-width="0.55" stroke-linejoin="miter"/>
<path d="M115.50 164.62L116.22 166.33L118.07 166.48L116.66 167.69L117.09 169.50L115.50 168.53L113.92 169.50L114.35 167.69L112.94 166.48L114.79 166.33Z" fill="#fff" stroke="#0000ff" stroke-width="0.55" stroke-linejoin="miter"/>
<path d="M101.70 165.75L102.41 167.47L104.26 167.62L102.85 168.83L103.28 170.64L101.70 169.67L100.11 170.64L100.54 168.83L99.13 167.62L100.98 167.47Z" fill="#fff" stroke="#0000ff" stroke-width="0.55" stroke-linejoin="miter"/>
<path d="M88.17 167.74L88.88 169.45L90.74 169.60L89.33 170.81L89.76 172.62L88.17 171.65L86.58 172.62L87.01 170.81L85.60 169.60L87.46 169.45Z" fill="#fff" stroke="#0000ff" stroke-width="0.55" stroke-linejoin="miter"/>
<path d="M77.74 170.01L78.46 171.72L80.31 171.87L78.90 173.08L79.33 174.89L77.74 173.92L76.16 174.89L76.59 173.08L75.18 171.87L77.03 171.72Z" fill="#fff" stroke="#0000ff" stroke-width="0.55" stroke-linejoin="miter"/>
<line x1="58" y1="29.50" x2="80.6" y2="29.50" stroke="#000000" stroke-width="1"/>
<rect x="67.75" y="27.65" width="3.70" height="3.70" fill="#000000" stroke="#000000" stroke-width="0.6"/>
<text x="84.1" y="33.10" class="lga"><tspan>MIL-100(Fe)</tspan></text>
<line x1="58" y1="43.92" x2="80.6" y2="43.92" stroke="#ff00ff" stroke-width="1"/>
<path d="M69.60 41.07L71.95 43.92L69.60 46.77L67.25 43.92Z" fill="#ff00ff" stroke="#ff00ff" stroke-width="0.6"/>
<text x="84.1" y="47.52" class="lga"><tspan fill="#ff00ff">0.1M</tspan> KI@MIL-100(Fe)</text>
<line x1="58" y1="58.34" x2="80.6" y2="58.34" stroke="#ff0000" stroke-width="1"/>
<circle cx="69.60" cy="58.34" r="2.20" fill="#ff0000" stroke="#ff0000" stroke-width="0.6"/>
<text x="84.1" y="61.94" class="lga"><tspan fill="#ff0000">0.001M</tspan> KI@MIL-100(Fe)</text>
<line x1="58" y1="72.76" x2="80.6" y2="72.76" stroke="#0000ff" stroke-width="1"/>
<path d="M69.60 70.06L70.31 71.78L72.17 71.93L70.76 73.14L71.19 74.94L69.60 73.97L68.01 74.94L68.44 73.14L67.03 71.93L68.89 71.78Z" fill="#0000ff" stroke="#0000ff" stroke-width="0.55" stroke-linejoin="miter"/>
<text x="84.1" y="76.36" class="lga"><tspan fill="#0000ff">0.01M</tspan> KI@MIL-100(Fe)</text>
<line x1="58" y1="87.18" x2="80.6" y2="87.18" stroke="#008000" stroke-width="1"/>
<path d="M69.60 84.11L72.20 88.71L67.00 88.71Z" fill="#008000" stroke="#008000" stroke-width="0.5" stroke-linejoin="miter"/>
<text x="84.1" y="90.78" class="lga"><tspan fill="#008000">RTG</tspan>-MIL-100(Fe)</text>
<rect x="392.6" y="14.1" width="283.20" height="241.90" fill="none" stroke="#000" stroke-width="1.8"/>
<line x1="388.00" y1="256.00" x2="392.6" y2="256.00" stroke="#000" stroke-width="1.7"/>
<text transform="translate(384.8,259.20) scale(0.95,1)" text-anchor="end" class="tk">0.0</text>
<line x1="389.80" y1="240.24" x2="392.6" y2="240.24" stroke="#000" stroke-width="1.7"/>
<line x1="388.00" y1="224.47" x2="392.6" y2="224.47" stroke="#000" stroke-width="1.7"/>
<text transform="translate(384.8,227.67) scale(0.95,1)" text-anchor="end" class="tk">0.5</text>
<line x1="389.80" y1="208.71" x2="392.6" y2="208.71" stroke="#000" stroke-width="1.7"/>
<line x1="388.00" y1="192.95" x2="392.6" y2="192.95" stroke="#000" stroke-width="1.7"/>
<text transform="translate(384.8,196.15) scale(0.95,1)" text-anchor="end" class="tk">1.0</text>
<line x1="389.80" y1="177.19" x2="392.6" y2="177.19" stroke="#000" stroke-width="1.7"/>
<line x1="388.00" y1="161.43" x2="392.6" y2="161.43" stroke="#000" stroke-width="1.7"/>
<text transform="translate(384.8,164.62) scale(0.95,1)" text-anchor="end" class="tk">1.5</text>
<line x1="389.80" y1="145.66" x2="392.6" y2="145.66" stroke="#000" stroke-width="1.7"/>
<line x1="388.00" y1="129.90" x2="392.6" y2="129.90" stroke="#000" stroke-width="1.7"/>
<text transform="translate(384.8,133.10) scale(0.95,1)" text-anchor="end" class="tk">2.0</text>
<line x1="389.80" y1="114.14" x2="392.6" y2="114.14" stroke="#000" stroke-width="1.7"/>
<line x1="388.00" y1="98.38" x2="392.6" y2="98.38" stroke="#000" stroke-width="1.7"/>
<text transform="translate(384.8,101.58) scale(0.95,1)" text-anchor="end" class="tk">2.5</text>
<line x1="389.80" y1="82.61" x2="392.6" y2="82.61" stroke="#000" stroke-width="1.7"/>
<line x1="388.00" y1="66.85" x2="392.6" y2="66.85" stroke="#000" stroke-width="1.7"/>
<text transform="translate(384.8,70.05) scale(0.95,1)" text-anchor="end" class="tk">3.0</text>
<line x1="389.80" y1="51.09" x2="392.6" y2="51.09" stroke="#000" stroke-width="1.7"/>
<line x1="388.00" y1="35.33" x2="392.6" y2="35.33" stroke="#000" stroke-width="1.7"/>
<text transform="translate(384.8,38.53) scale(0.95,1)" text-anchor="end" class="tk">3.5</text>
<line x1="389.80" y1="19.56" x2="392.6" y2="19.56" stroke="#000" stroke-width="1.7"/>
<line x1="392.60" y1="256.0" x2="392.60" y2="259.00" stroke="#000" stroke-width="1.7"/>
<line x1="409.26" y1="256.0" x2="409.26" y2="260.80" stroke="#000" stroke-width="1.7"/>
<text transform="translate(409.26,272.7) scale(0.95,1)" text-anchor="middle" class="tk">0.4</text>
<line x1="425.92" y1="256.0" x2="425.92" y2="259.00" stroke="#000" stroke-width="1.7"/>
<line x1="442.58" y1="256.0" x2="442.58" y2="260.80" stroke="#000" stroke-width="1.7"/>
<text transform="translate(442.58,272.7) scale(0.95,1)" text-anchor="middle" class="tk">0.6</text>
<line x1="459.24" y1="256.0" x2="459.24" y2="259.00" stroke="#000" stroke-width="1.7"/>
<line x1="475.89" y1="256.0" x2="475.89" y2="260.80" stroke="#000" stroke-width="1.7"/>
<text transform="translate(475.89,272.7) scale(0.95,1)" text-anchor="middle" class="tk">0.8</text>
<line x1="492.55" y1="256.0" x2="492.55" y2="259.00" stroke="#000" stroke-width="1.7"/>
<line x1="509.21" y1="256.0" x2="509.21" y2="260.80" stroke="#000" stroke-width="1.7"/>
<text transform="translate(509.21,272.7) scale(0.95,1)" text-anchor="middle" class="tk">1.0</text>
<line x1="525.87" y1="256.0" x2="525.87" y2="259.00" stroke="#000" stroke-width="1.7"/>
<line x1="542.53" y1="256.0" x2="542.53" y2="260.80" stroke="#000" stroke-width="1.7"/>
<text transform="translate(542.53,272.7) scale(0.95,1)" text-anchor="middle" class="tk">1.2</text>
<line x1="559.19" y1="256.0" x2="559.19" y2="259.00" stroke="#000" stroke-width="1.7"/>
<line x1="575.85" y1="256.0" x2="575.85" y2="260.80" stroke="#000" stroke-width="1.7"/>
<text transform="translate(575.85,272.7) scale(0.95,1)" text-anchor="middle" class="tk">1.4</text>
<line x1="592.51" y1="256.0" x2="592.51" y2="259.00" stroke="#000" stroke-width="1.7"/>
<line x1="609.16" y1="256.0" x2="609.16" y2="260.80" stroke="#000" stroke-width="1.7"/>
<text transform="translate(609.16,272.7) scale(0.95,1)" text-anchor="middle" class="tk">1.6</text>
<line x1="625.82" y1="256.0" x2="625.82" y2="259.00" stroke="#000" stroke-width="1.7"/>
<line x1="642.48" y1="256.0" x2="642.48" y2="260.80" stroke="#000" stroke-width="1.7"/>
<text transform="translate(642.48,272.7) scale(0.95,1)" text-anchor="middle" class="tk">1.8</text>
<line x1="659.14" y1="256.0" x2="659.14" y2="259.00" stroke="#000" stroke-width="1.7"/>
<line x1="675.80" y1="256.0" x2="675.80" y2="260.80" stroke="#000" stroke-width="1.7"/>
<text transform="translate(675.80,272.7) scale(0.95,1)" text-anchor="middle" class="tk">2.0</text>
<text x="534.5" y="288.9" text-anchor="middle" class="tt">Pore Diameter [nm]</text>
<text transform="translate(367.0,135.6) rotate(-90)" text-anchor="middle" class="tt2">dV/dD [cm<tspan font-size="7.6px" dy="-4.6">3</tspan><tspan dy="4.6">/g*nm]</tspan></text>
<text x="351.3" y="22.1" class="pl">(b)</text>
<polyline points="435.25,252.03 447.07,216.28 453.90,187.91 461.90,145.98 467.23,170.88 473.40,174.67 480.73,197.36 491.05,216.03 506.38,228.89 524.04,235.82 540.53,237.72 553.86,237.09 568.52,233.30 579.35,229.52 590.17,234.56 599.34,237.72 607.00,240.55 621.16,241.69 631.15,242.76 646.15,241.06 660.97,237.72" fill="none" stroke="#000000" stroke-width="1.9" stroke-linejoin="round"/>
<circle cx="435.25" cy="252.03" r="3.55" fill="#fff" stroke="#000000" stroke-width="0.9"/>
<circle cx="447.07" cy="216.28" r="3.55" fill="#fff" stroke="#000000" stroke-width="0.9"/>
<circle cx="453.90" cy="187.91" r="3.55" fill="#fff" stroke="#000000" stroke-width="0.9"/>
<circle cx="461.90" cy="145.98" r="3.55" fill="#fff" stroke="#000000" stroke-width="0.9"/>
<circle cx="467.23" cy="170.88" r="3.55" fill="#fff" stroke="#000000" stroke-width="0.9"/>
<circle cx="473.40" cy="174.67" r="3.55" fill="#fff" stroke="#000000" stroke-width="0.9"/>
<circle cx="480.73" cy="197.36" r="3.55" fill="#fff" stroke="#000000" stroke-width="0.9"/>
<circle cx="491.05" cy="216.03" r="3.55" fill="#fff" stroke="#000000" stroke-width="0.9"/>
<circle cx="506.38" cy="228.89" r="3.55" fill="#fff" stroke="#000000" stroke-width="0.9"/>
<circle cx="524.04" cy="235.82" r="3.55" fill="#fff" stroke="#000000" stroke-width="0.9"/>
<circle cx="540.53" cy="237.72" r="3.55" fill="#fff" stroke="#000000" stroke-width="0.9"/>
<circle cx="553.86" cy="237.09" r="3.55" fill="#fff" stroke="#000000" stroke-width="0.9"/>
<circle cx="568.52" cy="233.30" r="3.55" fill="#fff" stroke="#000000" stroke-width="0.9"/>
<circle cx="579.35" cy="229.52" r="3.55" fill="#fff" stroke="#000000" stroke-width="0.9"/>
<circle cx="590.17" cy="234.56" r="3.55" fill="#fff" stroke="#000000" stroke-width="0.9"/>
<circle cx="599.34" cy="237.72" r="3.55" fill="#fff" stroke="#000000" stroke-width="0.9"/>
<circle cx="607.00" cy="240.55" r="3.55" fill="#fff" stroke="#000000" stroke-width="0.9"/>
<circle cx="621.16" cy="241.69" r="3.55" fill="#fff" stroke="#000000" stroke-width="0.9"/>
<circle cx="631.15" cy="242.76" r="3.55" fill="#fff" stroke="#000000" stroke-width="0.9"/>
<circle cx="646.15" cy="241.06" r="3.55" fill="#fff" stroke="#000000" stroke-width="0.9"/>
<circle cx="660.97" cy="237.72" r="3.55" fill="#fff" stroke="#000000" stroke-width="0.9"/>
<polyline points="470.40,234.56 484.39,211.23 503.55,230.78 524.87,237.09 541.53,238.35 563.02,235.82 575.51,230.78 595.50,237.72 611.66,242.13 634.99,243.71 663.97,242.76" fill="none" stroke="#ff00ff" stroke-width="1.9" stroke-linejoin="round"/>
<path d="M470.40 230.86L473.60 234.56L470.40 238.26L467.20 234.56Z" fill="#fff" stroke="#ff00ff" stroke-width="0.8"/>
<path d="M484.39 207.53L487.59 211.23L484.39 214.93L481.19 211.23Z" fill="#fff" stroke="#ff00ff" stroke-width="0.8"/>
<path d="M503.55 227.08L506.75 230.78L503.55 234.48L500.35 230.78Z" fill="#fff" stroke="#ff00ff" stroke-width="0.8"/>
<path d="M524.87 233.39L528.07 237.09L524.87 240.78L521.67 237.09Z" fill="#fff" stroke="#ff00ff" stroke-width="0.8"/>
<path d="M541.53 234.65L544.73 238.35L541.53 242.05L538.33 238.35Z" fill="#fff" stroke="#ff00ff" stroke-width="0.8"/>
<path d="M563.02 232.12L566.22 235.82L563.02 239.52L559.82 235.82Z" fill="#fff" stroke="#ff00ff" stroke-width="0.8"/>
<path d="M575.51 227.08L578.71 230.78L575.51 234.48L572.31 230.78Z" fill="#fff" stroke="#ff00ff" stroke-width="0.8"/>
<path d="M595.50 234.02L598.70 237.72L595.50 241.42L592.30 237.72Z" fill="#fff" stroke="#ff00ff" stroke-width="0.8"/>
<path d="M611.66 238.43L614.86 242.13L611.66 245.83L608.46 242.13Z" fill="#fff" stroke="#ff00ff" stroke-width="0.8"/>
<path d="M634.99 240.01L638.19 243.71L634.99 247.41L631.79 243.71Z" fill="#fff" stroke="#ff00ff" stroke-width="0.8"/>
<path d="M663.97 239.06L667.17 242.76L663.97 246.46L660.77 242.76Z" fill="#fff" stroke="#ff00ff" stroke-width="0.8"/>
<polyline points="407.76,252.03 451.24,250.33 452.90,110.99 454.40,86.40 456.57,154.49 459.24,19.56 463.23,189.80 467.73,191.06 472.56,199.89 479.89,211.87 490.89,223.21 499.55,230.15 511.21,240.87 524.87,243.71 537.20,243.39 553.86,243.71 571.52,235.82 589.34,239.61 601.67,245.91 621.99,247.80 656.64,243.71" fill="none" stroke="#ff0000" stroke-width="1.9" stroke-linejoin="round"/>
<rect x="404.81" y="249.08" width="5.90" height="5.90" fill="#fff" stroke="#ff0000" stroke-width="0.75"/>
<rect x="448.29" y="247.38" width="5.90" height="5.90" fill="#fff" stroke="#ff0000" stroke-width="0.75"/>
<rect x="449.95" y="108.04" width="5.90" height="5.90" fill="#fff" stroke="#ff0000" stroke-width="0.75"/>
<rect x="451.45" y="83.45" width="5.90" height="5.90" fill="#fff" stroke="#ff0000" stroke-width="0.75"/>
<rect x="453.62" y="151.54" width="5.90" height="5.90" fill="#fff" stroke="#ff0000" stroke-width="0.75"/>
<rect x="456.29" y="16.61" width="5.90" height="5.90" fill="#fff" stroke="#ff0000" stroke-width="0.75"/>
<rect x="460.28" y="186.85" width="5.90" height="5.90" fill="#fff" stroke="#ff0000" stroke-width="0.75"/>
<rect x="464.78" y="188.11" width="5.90" height="5.90" fill="#fff" stroke="#ff0000" stroke-width="0.75"/>
<rect x="469.61" y="196.94" width="5.90" height="5.90" fill="#fff" stroke="#ff0000" stroke-width="0.75"/>
<rect x="476.94" y="208.92" width="5.90" height="5.90" fill="#fff" stroke="#ff0000" stroke-width="0.75"/>
<rect x="487.94" y="220.26" width="5.90" height="5.90" fill="#fff" stroke="#ff0000" stroke-width="0.75"/>
<rect x="496.60" y="227.20" width="5.90" height="5.90" fill="#fff" stroke="#ff0000" stroke-width="0.75"/>
<rect x="508.26" y="237.92" width="5.90" height="5.90" fill="#fff" stroke="#ff0000" stroke-width="0.75"/>
<rect x="521.92" y="240.76" width="5.90" height="5.90" fill="#fff" stroke="#ff0000" stroke-width="0.75"/>
<rect x="534.25" y="240.44" width="5.90" height="5.90" fill="#fff" stroke="#ff0000" stroke-width="0.75"/>
<rect x="550.91" y="240.76" width="5.90" height="5.90" fill="#fff" stroke="#ff0000" stroke-width="0.75"/>
<rect x="568.57" y="232.87" width="5.90" height="5.90" fill="#fff" stroke="#ff0000" stroke-width="0.75"/>
<rect x="586.39" y="236.66" width="5.90" height="5.90" fill="#fff" stroke="#ff0000" stroke-width="0.75"/>
<rect x="598.72" y="242.96" width="5.90" height="5.90" fill="#fff" stroke="#ff0000" stroke-width="0.75"/>
<rect x="619.04" y="244.85" width="5.90" height="5.90" fill="#fff" stroke="#ff0000" stroke-width="0.75"/>
<rect x="653.69" y="240.76" width="5.90" height="5.90" fill="#fff" stroke="#ff0000" stroke-width="0.75"/>
<polyline points="446.24,252.22 454.07,216.28 454.57,75.68 458.74,182.23 467.73,223.84 481.56,235.82 495.55,242.13 512.21,248.43 534.53,249.69 543.86,249.88 567.02,248.43 574.68,247.80 605.00,252.22 641.98,253.67 669.14,254.49" fill="none" stroke="#008000" stroke-width="1.9" stroke-linejoin="round"/>
<path d="M446.24 248.82L447.14 250.98L449.48 251.17L447.70 252.69L448.24 254.97L446.24 253.75L444.24 254.97L444.79 252.69L443.01 251.17L445.34 250.98Z" fill="#fff" stroke="#008000" stroke-width="0.75" stroke-linejoin="miter"/>
<path d="M454.07 212.88L454.97 215.04L457.30 215.23L455.53 216.75L456.07 219.03L454.07 217.81L452.07 219.03L452.62 216.75L450.84 215.23L453.17 215.04Z" fill="#fff" stroke="#008000" stroke-width="0.75" stroke-linejoin="miter"/>
<path d="M454.57 72.28L455.47 74.44L457.80 74.63L456.03 76.15L456.57 78.43L454.57 77.21L452.57 78.43L453.12 76.15L451.34 74.63L453.67 74.44Z" fill="#fff" stroke="#008000" stroke-width="0.75" stroke-linejoin="miter"/>
<path d="M458.74 178.83L459.63 180.99L461.97 181.18L460.19 182.70L460.73 184.98L458.74 183.76L456.74 184.98L457.28 182.70L455.50 181.18L457.84 180.99Z" fill="#fff" stroke="#008000" stroke-width="0.75" stroke-linejoin="miter"/>
<path d="M467.73 220.44L468.63 222.61L470.96 222.79L469.19 224.32L469.73 226.60L467.73 225.37L465.73 226.60L466.28 224.32L464.50 222.79L466.83 222.61Z" fill="#fff" stroke="#008000" stroke-width="0.75" stroke-linejoin="miter"/>
<path d="M481.56 232.42L482.46 234.59L484.79 234.77L483.01 236.30L483.56 238.57L481.56 237.35L479.56 238.57L480.10 236.30L478.32 234.77L480.66 234.59Z" fill="#fff" stroke="#008000" stroke-width="0.75" stroke-linejoin="miter"/>
<path d="M495.55 238.73L496.45 240.89L498.79 241.08L497.01 242.60L497.55 244.88L495.55 243.66L493.55 244.88L494.10 242.60L492.32 241.08L494.65 240.89Z" fill="#fff" stroke="#008000" stroke-width="0.75" stroke-linejoin="miter"/>
<path d="M512.21 245.03L513.11 247.20L515.44 247.38L513.67 248.91L514.21 251.18L512.21 249.96L510.21 251.18L510.76 248.91L508.98 247.38L511.31 247.20Z" fill="#fff" stroke="#008000" stroke-width="0.75" stroke-linejoin="miter"/>
<path d="M534.53 246.29L535.43 248.46L537.77 248.64L535.99 250.17L536.53 252.45L534.53 251.22L532.53 252.45L533.08 250.17L531.30 248.64L533.63 248.46Z" fill="#fff" stroke="#008000" stroke-width="0.75" stroke-linejoin="miter"/>
<path d="M543.86 246.48L544.76 248.65L547.10 248.83L545.32 250.36L545.86 252.63L543.86 251.41L541.86 252.63L542.41 250.36L540.63 248.83L542.96 248.65Z" fill="#fff" stroke="#008000" stroke-width="0.75" stroke-linejoin="miter"/>
<path d="M567.02 245.03L567.92 247.20L570.25 247.38L568.47 248.91L569.02 251.18L567.02 249.96L565.02 251.18L565.56 248.91L563.78 247.38L566.12 247.20Z" fill="#fff" stroke="#008000" stroke-width="0.75" stroke-linejoin="miter"/>
<path d="M574.68 244.40L575.58 246.57L577.91 246.75L576.14 248.28L576.68 250.55L574.68 249.33L572.68 250.55L573.23 248.28L571.45 246.75L573.78 246.57Z" fill="#fff" stroke="#008000" stroke-width="0.75" stroke-linejoin="miter"/>
<path d="M605.00 248.82L605.90 250.98L608.23 251.17L606.46 252.69L607.00 254.97L605.00 253.75L603.00 254.97L603.54 252.69L601.77 251.17L604.10 250.98Z" fill="#fff" stroke="#008000" stroke-width="0.75" stroke-linejoin="miter"/>
<path d="M641.98 250.27L642.88 252.43L645.22 252.62L643.44 254.14L643.98 256.42L641.98 255.20L639.98 256.42L640.53 254.14L638.75 252.62L641.08 252.43Z" fill="#fff" stroke="#008000" stroke-width="0.75" stroke-linejoin="miter"/>
<path d="M669.14 251.09L670.04 253.25L672.37 253.44L670.59 254.96L671.13 257.24L669.14 256.02L667.14 257.24L667.68 254.96L665.90 253.44L668.24 253.25Z" fill="#fff" stroke="#008000" stroke-width="0.75" stroke-linejoin="miter"/>
<polyline points="451.24,248.43 453.74,47.30 459.40,196.10 467.23,201.15 477.73,217.54 493.39,232.67 516.54,241.50 531.20,244.65 547.03,243.71 565.19,240.87 575.85,237.72 596.67,242.76 612.66,246.79 635.82,248.31 663.97,245.91" fill="none" stroke="#0000ff" stroke-width="1.9" stroke-linejoin="round"/>
<path d="M451.24 243.77L455.14 250.77L447.34 250.77Z" fill="#fff" stroke="#0000ff" stroke-width="0.9" stroke-linejoin="miter"/>
<path d="M453.74 42.64L457.64 49.64L449.84 49.64Z" fill="#fff" stroke="#0000ff" stroke-width="0.9" stroke-linejoin="miter"/>
<path d="M459.40 191.44L463.30 198.44L455.50 198.44Z" fill="#fff" stroke="#0000ff" stroke-width="0.9" stroke-linejoin="miter"/>
<path d="M467.23 196.48L471.13 203.48L463.33 203.48Z" fill="#fff" stroke="#0000ff" stroke-width="0.9" stroke-linejoin="miter"/>
<path d="M477.73 212.87L481.63 219.87L473.83 219.87Z" fill="#fff" stroke="#0000ff" stroke-width="0.9" stroke-linejoin="miter"/>
<path d="M493.39 228.00L497.29 235.00L489.49 235.00Z" fill="#fff" stroke="#0000ff" stroke-width="0.9" stroke-linejoin="miter"/>
<path d="M516.54 236.83L520.44 243.83L512.64 243.83Z" fill="#fff" stroke="#0000ff" stroke-width="0.9" stroke-linejoin="miter"/>
<path d="M531.20 239.98L535.10 246.98L527.30 246.98Z" fill="#fff" stroke="#0000ff" stroke-width="0.9" stroke-linejoin="miter"/>
<path d="M547.03 239.04L550.93 246.04L543.13 246.04Z" fill="#fff" stroke="#0000ff" stroke-width="0.9" stroke-linejoin="miter"/>
<path d="M565.19 236.20L569.09 243.20L561.29 243.20Z" fill="#fff" stroke="#0000ff" stroke-width="0.9" stroke-linejoin="miter"/>
<path d="M575.85 233.05L579.75 240.05L571.95 240.05Z" fill="#fff" stroke="#0000ff" stroke-width="0.9" stroke-linejoin="miter"/>
<path d="M596.67 238.09L600.57 245.09L592.77 245.09Z" fill="#fff" stroke="#0000ff" stroke-width="0.9" stroke-linejoin="miter"/>
<path d="M612.66 242.13L616.56 249.13L608.76 249.13Z" fill="#fff" stroke="#0000ff" stroke-width="0.9" stroke-linejoin="miter"/>
<path d="M635.82 243.64L639.72 250.64L631.92 250.64Z" fill="#fff" stroke="#0000ff" stroke-width="0.9" stroke-linejoin="miter"/>
<path d="M663.97 241.25L667.87 248.25L660.07 248.25Z" fill="#fff" stroke="#0000ff" stroke-width="0.9" stroke-linejoin="miter"/>
<line x1="508.5" y1="32.40" x2="537.3" y2="32.40" stroke="#000000" stroke-width="1.9"/>
<circle cx="523.10" cy="32.40" r="3.55" fill="#fff" stroke="#000000" stroke-width="0.9"/>
<text x="540.3" y="36.60" class="lgb">MIL-100(Fe)</text>
<line x1="508.5" y1="48.65" x2="537.3" y2="48.65" stroke="#ff00ff" stroke-width="1.9"/>
<path d="M523.10 44.55L527.20 48.65L523.10 52.75L519.00 48.65Z" fill="#fff" stroke="#ff00ff" stroke-width="0.9"/>
<text x="539.6" y="52.85" class="lgb"><tspan fill="#ff00ff">0.1M</tspan> KI<tspan class="at">@</tspan>MIL-100(Fe)</text>
<line x1="508.5" y1="64.90" x2="537.3" y2="64.90" stroke="#ff0000" stroke-width="1.9"/>
<rect x="520.40" y="62.20" width="5.40" height="5.40" fill="#fff" stroke="#ff0000" stroke-width="0.75"/>
<text x="542.2" y="69.10" class="lgb"><tspan fill="#ff0000">0.001M</tspan> KI<tspan class="at">@</tspan>MIL-100(Fe)</text>
<line x1="508.5" y1="81.15" x2="537.3" y2="81.15" stroke="#0000ff" stroke-width="1.9"/>
<path d="M523.10 76.48L527.00 83.48L519.20 83.48Z" fill="#fff" stroke="#0000ff" stroke-width="0.9" stroke-linejoin="miter"/>
<text x="539.6" y="85.35" class="lgb"><tspan fill="#0000ff">0.01M</tspan> KI<tspan class="at">@</tspan>MIL-100(Fe)</text>
<line x1="508.5" y1="97.40" x2="537.3" y2="97.40" stroke="#008000" stroke-width="1.9"/>
<path d="M523.10 93.20L524.21 95.87L527.09 96.10L524.90 97.98L525.57 100.80L523.10 99.29L520.63 100.80L521.30 97.98L519.11 96.10L521.99 95.87Z" fill="#fff" stroke="#008000" stroke-width="0.75" stroke-linejoin="miter"/>
<text x="539.6" y="101.60" class="lgb"><tspan fill="#008000">RTG-MIL-100(Fe)</tspan></text>
</svg>
</body></html>
